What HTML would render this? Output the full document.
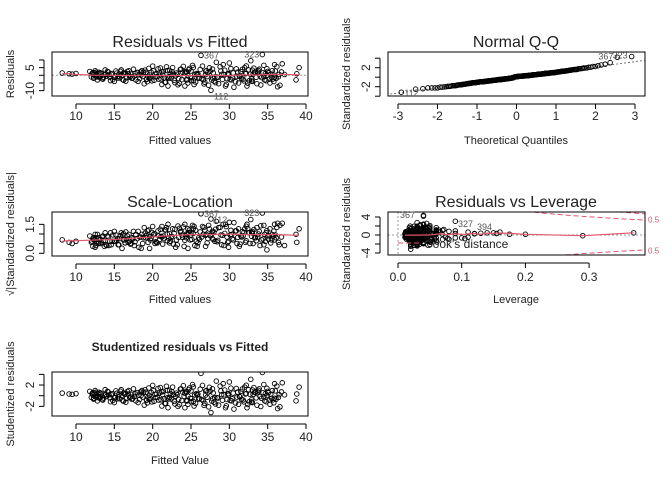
<!DOCTYPE html>
<html><head><meta charset="utf-8"><style>
html,body{margin:0;padding:0;background:#fff}
svg{display:block;font-family:"Liberation Sans",sans-serif}
</style></head><body>
<svg id="chart" width="672" height="480" viewBox="0 0 672 480" xmlns="http://www.w3.org/2000/svg"></svg>
<script>
const fitted=[8.2,9.1,9.5,10.0,11.8,12.0,12.2,12.3,12.5,12.6,12.8,13.0,13.1,13.3,13.5,13.8,14.0,14.2,14.5,14.7,15.0,15.2,15.4,15.6,15.9,16.1,16.3,16.5,16.7,17.0,17.2,17.5,17.8,18.0,18.3,18.6,18.9,19.1,19.3,19.5,19.7,20.0,20.2,20.5,20.8,21.0,21.2,21.4,21.6,21.8,22.0,22.2,22.4,22.6,22.9,23.1,23.3,23.6,23.8,24.0,24.2,24.4,24.6,24.8,25.0,25.2,25.4,25.7,26.0,26.3,26.5,26.8,27.0,27.3,27.6,27.8,28.0,28.3,28.6,28.9,29.2,29.5,29.8,30.0,30.3,30.6,30.9,31.2,31.5,31.8,32.0,32.3,32.5,32.8,33.0,33.3,33.6,33.9,34.2,34.3,34.5,34.8,35.0,35.3,35.6,35.9,36.1,36.3,36.6,36.9,37.2,38.7,38.8,39.1,
12.4,13.2,14.3,15.1,16.0,16.8,17.6,18.8,19.4,20.3,21.5,22.3,23.0,24.3,24.9,25.5,26.6,27.2,28.1,29.0,29.7,30.5,31.0,32.1,32.6,33.4,34.0,34.7,35.5,36.0,
12.1,12.3,12.6,12.9,13.2,13.4,13.7,14.1,14.4,14.8,15.3,15.5,15.8,16.2,16.4,16.6,16.9,17.3,17.7,18.1,18.4,18.7,19.0,19.2,19.6,19.9,20.1,20.4,20.7,21.1,21.3,21.7,21.9,22.1,22.5,22.8,23.2,23.5,23.7,24.1,24.5,24.7,25.1,25.3,25.6,25.9,26.2,26.4,26.7,26.9,27.1,27.4,27.7,27.9,28.2,28.5,28.8,29.1,29.4,29.6,29.9,30.2,30.4,30.8,31.1,31.4,31.7,31.9,32.2,32.4,32.7,32.9,33.2,33.5,33.8,34.1,34.4,34.6,34.9,35.2,35.4,35.8,36.2,36.4,36.8,
12.2,12.7,13.0,13.6,14.6,15.7,16.2,17.1,18.2,19.2,19.8,20.6,21.2,21.9,22.7,23.4,24.2,24.6,25.0,25.3,26.1,26.9,27.5,28.4,29.3,30.1,31.3,32.2,32.9,33.1,33.7,34.5,35.1,35.7,36.5,
12.5,13.9,15.0,16.4,17.4,18.5,19.6,20.9,22.2,23.9,24.4,25.8,27.8,29.9,31.6,33.0,34.9,35.9];
const resid=[1.5,1.0,0.8,1.2,2.5,-1.0,1.8,-2.0,3.0,0.5,-3.0,2.0,-1.5,1.0,-2.5,3.5,-0.5,2.2,-3.5,1.2,-4.0,2.8,-1.8,0.6,3.5,-2.8,1.5,-3.8,2.5,-1.2,0.8,4.0,-3.0,1.8,-2.2,3.0,-5.5,2.0,-4.2,4.5,-1.5,6.0,-3.2,1.0,-2.5,4.8,-6.0,2.5,-4.5,5.5,-7.0,3.2,-2.0,5.0,-4.8,1.5,-6.2,3.8,-2.8,5.8,-7.0,2.0,-5.0,4.5,-3.5,6.5,-6.0,1.2,-2.0,13.0,6.0,-4.5,3.0,-6.5,-9.8,4.0,-3.8,8.5,-5.5,2.8,7.0,-7.0,1.0,8.0,-3.0,-7.8,4.2,-5.0,2.5,-2.5,5.0,-7.0,3.5,9.5,-4.0,2.0,-5.5,4.0,-1.5,13.5,6.5,-3.5,2.5,-5.0,3.0,7.0,-2.0,-7.5,-6.5,7.5,0.5,-3.0,1.0,5.0,
1.5,-0.8,0.5,-1.2,0.2,1.0,-0.5,2.0,-1.0,0.8,-1.8,1.2,-0.3,2.5,-1.5,0.5,-3.0,1.8,-1.2,0.6,-2.2,1.5,-0.8,1.0,-3.5,2.0,-0.5,1.2,-1.5,2.8,
1.2,-1.5,2.0,-0.8,1.6,-2.2,0.4,2.5,-1.2,-2.8,1.4,-0.6,2.6,-3.2,0.9,-1.6,3.0,-2.0,1.1,-4.0,2.2,-0.8,3.4,-2.6,0.2,-3.6,2.9,-1.1,4.2,-2.4,0.7,-4.6,3.1,-1.9,2.4,-3.3,0.6,-5.2,4.0,-0.4,-2.9,3.6,-1.6,5.1,-4.4,0.9,3.8,-2.2,-5.6,2.7,-0.9,4.9,-3.1,1.6,-4.8,-1.4,5.6,-2.7,3.3,-5.9,0.3,4.4,-1.8,-4.2,2.1,-0.7,3.9,-3.6,6.1,-5.1,0.8,-2.4,4.7,-1.3,3.1,-6.3,1.7,-3.0,4.3,-2.6,0.9,-4.1,5.6,-1.0,2.2,
0.4,-1.1,0.9,-1.4,0.6,-1.8,1.5,-0.7,0.3,-2.6,1.9,-0.9,2.2,-1.3,0.7,-2.1,1.4,-0.2,2.8,-3.3,-1.6,0.4,2.6,-1.1,0.5,-2.8,-0.4,1.3,-3.6,0.8,2.2,-0.6,1.7,-2.4,0.6,
-0.3,0.6,-1.2,0.9,-1.7,0.2,-2.3,1.6,-0.9,2.1,-3.1,0.4,-1.8,1.2,-2.2,3.4,0.1,-1.5];
const leverage=[0.37,0.06,0.05,0.045,0.02,0.015,0.03,0.02,0.05,0.2,0.018,0.03,0.022,0.04,0.025,0.026,0.29,0.02,0.03,0.015,0.02,0.04,0.025,0.06,0.03,0.02,0.15,0.035,0.025,0.03,0.12,0.028,0.04,0.02,0.05,0.03,0.022,0.045,0.018,0.03,0.11,0.025,0.035,0.09,0.02,0.04,0.03,0.06,0.025,0.05,0.02,0.07,0.1,0.03,0.035,0.14,0.02,0.04,0.08,0.03,0.025,0.16,0.03,0.045,0.02,0.035,0.04,0.13,0.06,0.04,0.03,0.05,0.025,0.03,0.02,0.04,0.06,0.03,0.025,0.09,0.04,0.03,0.155,0.045,0.035,0.02,0.05,0.03,0.08,0.105,0.04,0.025,0.06,0.09,0.03,0.11,0.04,0.03,0.075,0.04,0.05,0.03,0.02,0.04,0.06,0.035,0.09,0.03,0.05,0.04,0.175,0.07,0.12,0.06,
0.015,0.02,0.03,0.012,0.025,0.018,0.03,0.022,0.015,0.028,0.02,0.035,0.012,0.025,0.03,0.018,0.04,0.02,0.03,0.015,0.025,0.06,0.02,0.03,0.045,0.02,0.035,0.015,0.025,0.03,
0.012,0.018,0.025,0.031,0.016,0.022,0.044,0.028,0.014,0.036,0.052,0.019,0.027,0.033,0.011,0.041,0.023,0.057,0.015,0.029,0.038,0.021,0.064,0.017,0.032,0.026,0.047,0.013,0.035,0.024,0.069,0.019,0.042,0.028,0.016,0.053,0.031,0.022,0.037,0.014,0.058,0.026,0.034,0.018,0.045,0.023,0.072,0.015,0.039,0.027,0.021,0.049,0.033,0.012,0.061,0.025,0.043,0.017,0.036,0.029,0.055,0.02,0.046,0.024,0.066,0.014,0.032,0.038,0.019,0.051,0.026,0.078,0.022,0.04,0.016,0.034,0.059,0.021,0.044,0.028,0.013,0.048,0.03,0.017,0.063,
0.011,0.015,0.019,0.023,0.027,0.013,0.017,0.021,0.025,0.029,0.012,0.016,0.02,0.024,0.028,0.014,0.018,0.022,0.026,0.03,0.011,0.015,0.019,0.023,0.027,0.013,0.017,0.021,0.025,0.029,0.012,0.016,0.02,0.024,0.028,
0.031,0.039,0.047,0.055,0.035,0.043,0.051,0.033,0.041,0.049,0.037,0.045,0.053,0.032,0.044,0.036,0.048,0.04];
const pointIds=[["367",69],["323",99],["112",74]];
const sigma=3.1, nParams=14;
const fitTicks=[10,15,20,25,30,35,40];
const residTicks=[-10,-5,0,5,10], residLabels=[-10,5];
const qqTicks=[-3,-2,-1,0,1,2,3], qqYTicks=[-4,-2,0,2,4], qqYLabels=[-2,2];
const slTicks=[0,0.5,1,1.5], slLabels=["0.0","1.5"];
const levTicks=[0,0.1,0.2,0.3], levYTicks=[-4,-2,0,2,4], levYLabels=[-4,0,4];
const stTicks=[-2,0,2,4], stLabels=[-2,2];
const cookLevels=[0.5,1];

const svg=document.getElementById('chart');
const NS='http://www.w3.org/2000/svg';
function mk(tag,attrs,parent){const e=document.createElementNS(NS,tag);for(const k in attrs)e.setAttribute(k,attrs[k]);(parent||svg).appendChild(e);return e;}
function txt(s,x,y,size,opts,parent){opts=opts||{};const e=mk('text',{x:x,y:y,'font-size':size,'text-anchor':opts.anchor||'middle',fill:opts.fill||'#222','font-weight':opts.bold?'bold':'normal'},parent);if(opts.rot)e.setAttribute('transform','rotate(-90 '+x+' '+y+')');e.textContent=s;return e;}
const n=Math.min(fitted.length,resid.length,leverage.length);
const std=resid.slice(0,n).map(r=>r/sigma);
const sl=std.map(s=>Math.sqrt(Math.abs(s)));

function panel(name,box,xs,ys){
  const g=mk('g',{});
  
  
  const cid='clip-'+name;
  const cp=mk('clipPath',{id:cid},g);mk('rect',{x:box[0],y:box[1],width:box[2]-box[0],height:box[3]-box[1]},cp);
  const inner=mk('g',{'clip-path':'url(#'+cid+')'},g);
  
  
  return {g:g,inner:inner,box:box,xs:xs,ys:ys};
}
function frame(P){const b=P.box;const r=mk('rect',{x:b[0],y:b[1],width:b[2]-b[0],height:b[3]-b[1],fill:'none',stroke:'#000','stroke-width':1},P.g);}
function xAxis(P,ticks,labels,ly){const b=P.box;const ax=mk('g',{},P.g);
  
  const x0=P.xs(ticks[0]),x1=P.xs(ticks[ticks.length-1]);
  mk('line',{x1:x0,x2:x1,y1:b[3]+8,y2:b[3]+8,stroke:'#000'},ax);
  ticks.forEach((t,i)=>{const x=P.xs(t);mk('line',{x1:x,x2:x,y1:b[3]+8,y2:b[3]+13,stroke:'#000'},ax);
    const l=txt(labels[i],x,ly,12,{},ax);});}
function yAxis(P,ticks,labels){const b=P.box;const ax=mk('g',{},P.g);
  
  const ys=ticks.map(P.ys);const xa=b[0]-8;
  mk('line',{x1:xa,x2:xa,y1:Math.min(...ys),y2:Math.max(...ys),stroke:'#000'},ax);
  ticks.forEach(t=>{const y=P.ys(t);mk('line',{x1:xa-5,x2:xa,y1:y,y2:y,stroke:'#000'},ax);});
  labels.forEach((t,i)=>{const y=P.ys(typeof t==='string'?parseFloat(t):t);const l=txt(String(t),xa-10,y,12,{rot:true},ax);});}
function pts(P,xv,yv){for(let i=0;i<xv.length;i++){const c=mk('circle',{cx:P.xs(xv[i]),cy:P.ys(yv[i]),r:2.3,fill:'none',stroke:'#000','stroke-width':0.9},P.inner);
  
  }}
function smooth(P,xv,yv,w){const idx=xv.map((v,i)=>i).sort((a,b)=>xv[a]-xv[b]);let d='';
  idx.forEach((i,k)=>{let s=0,c=0;for(let j=0;j<xv.length;j++){if(Math.abs(xv[j]-xv[i])<=w){s+=yv[j];c++;}}d+=(k?'L':'M')+P.xs(xv[i]).toFixed(1)+','+P.ys(s/c).toFixed(1);});
  const p=mk('path',{d:d,fill:'none',stroke:'#DF536B','stroke-width':1.2},P.inner);
  
  }
function hline(P,v,col){const b=P.box;const l=mk('line',{x1:b[0],x2:b[2],y1:P.ys(v),y2:P.ys(v),stroke:col||'#999','stroke-dasharray':'2,2'},P.inner);}
function idLabels(P,xv,yv,anchorMap){pointIds.forEach(([id,i])=>{const a=anchorMap[id];const l=txt(id,P.xs(xv[i])+a[0],P.ys(yv[i])+a[1],9,{fill:'#555',anchor:a[2]},P.g);});}

const fx=v=>76+(v-10)*7.667;
const f1=fitted.slice(0,n);
// Panel 1
const P1=panel('residuals-vs-fitted',[52,52,308,96],fx,v=>75.3-v*1.533);
hline(P1,0);pts(P1,f1,resid.slice(0,n));smooth(P1,f1,resid.slice(0,n),3);frame(P1);
xAxis(P1,fitTicks,fitTicks,120);yAxis(P1,residTicks,residLabels);
idLabels(P1,f1,resid,{"367":[3,3,'start'],"323":[-3,3,'end'],"112":[3,9,'start']});
let t=txt('Residuals vs Fitted',180,47,16,{},P1.g);
t=txt('Fitted values',180,144,11,{},P1.g);
t=txt('Residuals',14,74,11,{rot:true},P1.g);

// Panel 2 QQ
function qnorm(p){const a=[-39.69683028665376,220.9460984245205,-275.9285104469687,138.357751867269,-30.66479806614716,2.506628277459239],b=[-54.47609879822406,161.5858368580409,-155.6989798598866,66.80131188771972,-13.28068155288572],c=[-0.007784894002430293,-0.3223964580411365,-2.400758277161838,-2.549732539343734,4.374664141464968,2.938163982698783],d=[0.007784695709041462,0.3224671290700398,2.445134137142996,3.754408661907416];
  let q,r;if(p<0.02425){q=Math.sqrt(-2*Math.log(p));return(((((c[0]*q+c[1])*q+c[2])*q+c[3])*q+c[4])*q+c[5])/((((d[0]*q+d[1])*q+d[2])*q+d[3])*q+1);}
  if(p>1-0.02425){q=Math.sqrt(-2*Math.log(1-p));return-(((((c[0]*q+c[1])*q+c[2])*q+c[3])*q+c[4])*q+c[5])/((((d[0]*q+d[1])*q+d[2])*q+d[3])*q+1);}
  q=p-0.5;r=q*q;return(((((a[0]*r+a[1])*r+a[2])*r+a[3])*r+a[4])*r+a[5])*q/(((((b[0]*r+b[1])*r+b[2])*r+b[3])*r+b[4])*r+1);}
const order=std.map((v,i)=>i).sort((a,b)=>std[a]-std[b]);
const sorted=order.map(i=>std[i]);
const theo=sorted.map((v,i)=>qnorm((i+0.5)/n));
const P2=panel('normal-qq',[388,52,645,96],v=>516.5+v*39.5,v=>77.2-v*4.75);
const q1=sorted[Math.floor(n*0.25)],q3=sorted[Math.floor(n*0.75)];
const slope=(q3-q1)/1.349,icpt=q1-slope*(-0.6745);
let ql=mk('line',{x1:P2.xs(-3.5),y1:P2.ys(icpt-3.5*slope),x2:P2.xs(3.5),y2:P2.ys(icpt+3.5*slope),stroke:'#777','stroke-dasharray':'2,2'},P2.inner);

pts(P2,theo,sorted);frame(P2);
xAxis(P2,qqTicks,qqTicks,120);yAxis(P2,qqYTicks,qqYLabels);
pointIds.forEach(([id,i])=>{const k=order.indexOf(i);const x=P2.xs(theo[k]),y=P2.ys(sorted[k]);const l=txt(id,x+(id==='112'?3:-4),y+(id==='112'?4:2),9,{fill:'#555',anchor:id==='112'?'start':'end'},P2.g);});
t=txt('Normal Q-Q',516,47,16,{},P2.g);
t=txt('Theoretical Quantiles',516,144,11,{},P2.g);
t=txt('Standardized residuals',350,74,11,{rot:true},P2.g);

// Panel 3 Scale-Location
const P3=panel('scale-location',[52,212,308,256],fx,v=>253.3-v*19.3);
pts(P3,f1,sl);smooth(P3,f1,sl,4);frame(P3);
xAxis(P3,fitTicks,fitTicks,281);yAxis(P3,slTicks,slLabels);
idLabels(P3,f1,sl,{"367":[3,3,'start'],"323":[-3,3,'end'],"112":[2,4,'start']});
t=txt('Scale-Location',180,207,16,{},P3.g);
t=txt('Fitted values',180,303,11,{},P3.g);
t=txt('√|Standardized residuals|',14,234,11,{rot:true},P3.g);

// Panel 4 Residuals vs Leverage
const P4=panel('residuals-vs-leverage',[388,212,645,255],v=>398+v*637,v=>235-v*4.5);
const lev=leverage.slice(0,n);
hline(P4,0);
let vl=mk('line',{x1:P4.xs(0),x2:P4.xs(0),y1:212,y2:255,stroke:'#999','stroke-dasharray':'2,2'},P4.inner);
pts(P4,lev,std);smooth(P4,lev,std,0.03);
cookLevels.forEach(c=>{[1,-1].forEach(sg=>{let d='';for(let h=0.005;h<=0.42;h+=0.005){const y=sg*Math.sqrt(c*nParams*(1-h)/h);d+=(d?'L':'M')+P4.xs(h).toFixed(1)+','+P4.ys(y).toFixed(1);}
  const p=mk('path',{d:d,fill:'none',stroke:'#DF536B','stroke-dasharray':'5,3','stroke-width':1},P4.inner);
  
  });
  if(c===0.5){[1,-1].forEach(sg=>{const y=P4.ys(sg*Math.sqrt(c*nParams*(1-0.37)/0.37));const l=txt('0.5',648,y+3,8,{fill:'#DF536B',anchor:'start'},P4.g);});}});
frame(P4);
xAxis(P4,levTicks,["0.0","0.1","0.2","0.3"],281);yAxis(P4,levYTicks,levYLabels);
let lt=txt('367',400,218,9,{fill:'#555',anchor:'start'},P4.g);
lt=txt('327',458,227,9,{fill:'#555',anchor:'start'},P4.g);
lt=txt('394',477,230,9,{fill:'#555',anchor:'start'},P4.g);
const lg=mk('g',{},P4.g);
mk('line',{x1:398,x2:420,y1:243,y2:243,stroke:'#DF536B','stroke-dasharray':'5,3'},lg);
txt("Cook's distance",424,248,12,{anchor:'start'},lg);
t=txt('Residuals vs Leverage',516,207,16,{},P4.g);
t=txt('Leverage',516,303,11,{},P4.g);
t=txt('Standardized residuals',350,234,11,{rot:true},P4.g);

// Panel 5 Studentized
const P5=panel('studentized-vs-fitted',[52,372,308,416],fx,v=>395.7-v*5.33);
pts(P5,f1,std);frame(P5);
xAxis(P5,fitTicks,fitTicks,441);yAxis(P5,stTicks,stLabels);
t=txt('Studentized residuals vs Fitted',180,351,12,{bold:true},P5.g);
t=txt('Fitted Value',180,464,11,{},P5.g);
t=txt('Studentized residuals',14,394,11,{rot:true},P5.g);
</script>
</body></html>
